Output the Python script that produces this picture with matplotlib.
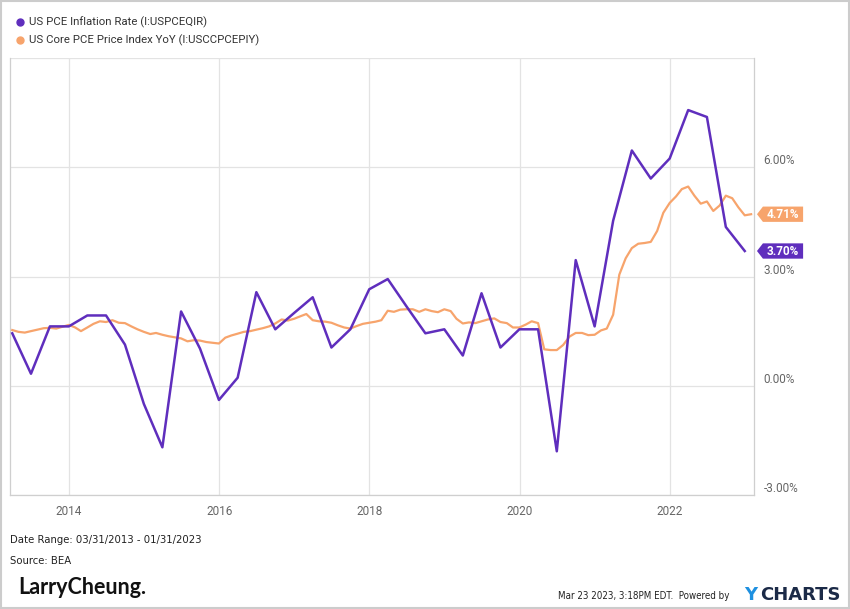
"""
US PCE 通胀率 vs 核心PCE同比 (YCharts 风格复刻)
"""

import numpy as np
import pandas as pd
import matplotlib.pyplot as plt
import matplotlib.transforms as mtransforms
from matplotlib.patches import Polygon, Rectangle
from matplotlib.lines import Line2D

# ==================== 数据 ====================
# 季度 PCE 通胀率 (年化, %), 2013Q1 - 2022Q4
pce_dates = pd.date_range('2013-03-31', '2022-12-31', freq='QE')
pce_values = [
    1.44, 0.33, 1.63, 1.63,
    1.93, 1.93, 1.13, -0.50,
    -1.69, 2.04, 1.02, -0.39,
    0.22, 2.57, 1.55, 2.00,
    2.43, 1.05, 1.55, 2.65,
    2.93, 2.18, 1.44, 1.55,
    0.83, 2.54, 1.05, 1.55,
    1.55, -1.80, 3.45, 1.63,
    4.53, 6.46, 5.69, 6.24,
    7.57, 7.38, 4.36, 3.70,
]

# 月度核心 PCE 同比 (%), 2013-03 - 2023-01
core_dates = pd.date_range('2013-03-31', '2023-01-31', freq='ME')
core_values = [
    1.53, 1.48, 1.46, 1.50, 1.54, 1.58, 1.59, 1.57, 1.62, 1.67,   # 2013
    1.60, 1.50, 1.60, 1.70, 1.77, 1.75, 1.80, 1.73, 1.72, 1.63, 1.55, 1.48,  # 2014
    1.42, 1.45, 1.40, 1.36, 1.33, 1.30, 1.22, 1.25, 1.24, 1.20, 1.18, 1.16,  # 2015
    1.32, 1.38, 1.43, 1.48, 1.50, 1.54, 1.58, 1.63, 1.71, 1.82, 1.79, 1.84,  # 2016
    1.91, 1.97, 1.80, 1.77, 1.76, 1.73, 1.66, 1.60, 1.57, 1.64, 1.70, 1.73,  # 2017
    1.76, 1.80, 2.06, 2.03, 2.09, 2.10, 2.10, 2.03, 2.10, 2.05, 2.02, 2.10,  # 2018
    2.05, 1.84, 1.71, 1.74, 1.72, 1.77, 1.82, 1.85, 1.75, 1.72, 1.60, 1.60,  # 2019
    1.68, 1.77, 1.72, 1.00, 0.98, 0.98, 1.12, 1.35, 1.45, 1.45, 1.39, 1.40,  # 2020
    1.52, 1.57, 1.95, 3.05, 3.50, 3.78, 3.90, 3.92, 3.95, 4.25, 4.75, 5.02,  # 2021
    5.20, 5.40, 5.47, 5.22, 5.00, 5.06, 4.80, 4.95, 5.22, 5.15, 4.90, 4.68,  # 2022
    4.71,                                                                    # 2023
]

PCE_LABEL = 'US PCE Inflation Rate (I:USPCEQIR)'
CORE_LABEL = 'US Core PCE Price Index YoY (I:USCCPCEPIY)'

y_ticks = [-3, 0, 3, 6, 9]
y_tick_labels = ['-3.00%', '0.00%', '3.00%', '6.00%', '']
x_years = [2014, 2016, 2018, 2020, 2022]

# ==================== 样式 ====================
PURPLE = '#5F2EBD'
ORANGE = '#F7A46C'
GRID = '#E3E3E3'
TEXT_GRAY = '#666666'
FONT = ['Roboto', 'DejaVu Sans']

plt.rcParams['font.family'] = FONT

fig = plt.figure(figsize=(8.5, 6.09), dpi=100)
ax = fig.add_axes([10 / 850, 1 - 495 / 609, 744 / 850, 437 / 609])

# 曲线
ax.plot(core_dates, core_values, color=ORANGE, linewidth=1.6, zorder=3)
ax.plot(pce_dates, pce_values, color=PURPLE, linewidth=1.8, zorder=4)

# 坐标轴范围
ax.set_xlim(pd.Timestamp('2013-03-20'), pd.Timestamp('2023-02-14'))
ax.set_ylim(-3, 9)

# 网格与刻度
ax.set_yticks(y_ticks)
ax.set_yticklabels(y_tick_labels)
ax.yaxis.tick_right()
ax.set_xticks([pd.Timestamp(f'{y}-01-01') for y in x_years])
ax.set_xticklabels([str(y) for y in x_years])
ax.grid(True, color=GRID, linewidth=0.9)
ax.tick_params(axis='both', length=0, colors=TEXT_GRAY, labelsize=8.5)
ax.tick_params(axis='y', pad=7)
ax.tick_params(axis='x', pad=7)
for lbl in ax.get_yticklabels():
    lbl.set_verticalalignment('bottom')
for side in ['left', 'bottom', 'right']:
    ax.spines[side].set_color('#CFCFCF')
    ax.spines[side].set_linewidth(0.9)
ax.spines['top'].set_visible(False)

# 右侧数值标签 (带箭头的色块)
trans = mtransforms.blended_transform_factory(ax.transAxes, ax.transData)
half_h = 0.21
for val, color in [(core_values[-1], ORANGE), (pce_values[-1], PURPLE)]:
    verts = [(1.004, val), (1.012, val + half_h), (1.066, val + half_h),
             (1.066, val - half_h), (1.012, val - half_h)]
    ax.add_patch(Polygon(verts, closed=True, transform=trans, facecolor=color,
                         edgecolor='none', clip_on=False, zorder=5))
    ax.text(1.039, val, f'{val:.2f}%', transform=trans, ha='center', va='center',
            color='white', fontsize=8.5, fontweight='bold', zorder=6)

# 图例
for i, (lbl, color) in enumerate([(PCE_LABEL, PURPLE), (CORE_LABEL, ORANGE)]):
    y = 1 - (22 + 18 * i) / 609
    fig.add_artist(Line2D([20 / 850], [y], marker='o', markersize=5,
                          color=color, linestyle='none'))
    fig.text(29 / 850, y, lbl, fontsize=8.2, color='#333333', va='center')

# 底部说明 (窄体字)
narrow = dict(family=['DejaVu Sans'], fontstretch='condensed', color='#222222', va='center')
fig.text(10 / 850, 1 - 540 / 609, 'Date Range: 03/31/2013 - 01/31/2023',
         fontsize=8.1, **narrow)
fig.text(10 / 850, 1 - 561 / 609, 'Source: BEA', fontsize=8.1, **narrow)
fig.text(18 / 850, 1 - 588 / 609, 'LarryCheung.', fontsize=15.5, fontweight='bold',
         family=['Lato', 'DejaVu Sans'], color='#111111', va='center')
fig.text(729 / 850, 1 - 596 / 609, 'Mar 23 2023, 3:18PM EDT.  Powered by',
         fontsize=7, ha='right', **narrow)
fig.text(744 / 850, 1 - 595 / 609, 'Y', fontsize=13, fontweight='bold',
         family=['DejaVu Sans'], color='#1E90E0', va='center')
fig.text(760 / 850, 1 - 595 / 609, 'CHARTS', fontsize=13, fontweight='bold',
         family=['DejaVu Sans'], color='#1B2A47', va='center')

# 外框
fig.add_artist(Rectangle((0.001, 0.001), 0.998, 0.998, transform=fig.transFigure,
                         fill=False, edgecolor='#CCCCCC', linewidth=1.5))

fig.savefig('out.png', dpi=100)
